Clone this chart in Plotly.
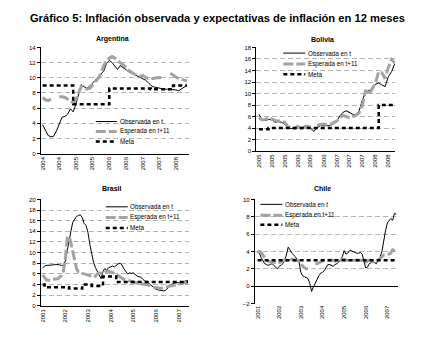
import plotly.graph_objects as go
import pandas as pd

# ---------------- DATA ----------------
# Argentina (monthly from 2004-01)
arg_obs = [3.8, 3.0, 2.4, 2.2, 2.3, 3.0, 4.0, 4.8, 4.9, 5.2, 5.9, 5.5, 6.6, 8.0, 9.1, 8.8, 8.6, 8.9,
           9.3, 9.6, 10.0, 10.5, 10.9, 11.9, 12.3, 12.0, 11.5, 11.1, 11.6, 11.4, 11.1, 10.8, 10.6, 10.4,
           10.3, 10.0, 9.9, 9.7, 9.4, 9.0, 8.8, 8.7, 8.6, 8.6, 8.5, 8.5, 8.5, 8.4, 8.4, 8.3, 8.5, 8.8, 9.0]
arg_esp = [7.4, 7.1, 7.0, 7.2, None, None, 7.5, 7.5, 7.4, 7.2, 6.9, 6.7, 7.2, 8.2, 8.9, 8.7, 8.5, 8.6,
           9.1, 9.5, 9.9, 10.6, 11.6, 12.3, 12.6, 12.8, 12.6, 12.3, 12.0, 11.8, 11.4, 11.0, 10.7, 10.5,
           10.3, 10.2, 10.3, 10.1, 9.9, 9.9, 9.9, 10.0, 10.0, 10.1, None, None, 10.6, 10.3, 10.1, 9.9,
           9.8, 9.7, 9.6]
arg_meta_dates = ["2004-01-01", "2004-12-01", "2006-01-01", "2007-04-01", "2007-12-01", "2008-05-01"]
arg_meta = [9.0, 6.5, 8.6, 8.5, 9.0, 9.0]

# Bolivia (monthly from 2005-01)
bol_obs = [6.4, 5.4, 5.3, 5.5, 5.4, 5.0, 5.1, 5.0, 4.7, 4.0, 3.9, 4.0, 4.2, 4.0, 4.2, 4.2, 4.0, 3.4,
           4.0, 4.4, 4.4, 4.4, 4.4, 4.7, 5.2, 6.1, 6.7, 7.0, 6.7, 6.4, 6.3, 7.0, 8.9, 10.2, 10.5, 10.9,
           11.6, 11.8, 11.5, 11.2, 12.9, 13.8, 15.2]
bol_esp = [5.8, 5.4, 5.5, 5.8, 5.6, 5.3, 5.2, 5.2, 5.0, 4.2, 4.0, 3.9, 4.3, 3.9, 4.2, 4.3, 4.2, None,
           4.5, 4.6, 4.7, 4.6, 4.6, 4.9, 5.2, 5.7, 6.2, 6.0, 5.8, 6.0, 6.2, 6.6, 8.0, 10.6, 9.8, 10.8,
           11.8, 13.8, 13.6, 12.6, 14.5, 15.9, 15.3]
bol_meta_dates = ["2005-01-01", "2005-04-01", "2008-02-01", "2008-07-01"]
bol_meta = [3.8, 4.0, 8.0, 8.0]

# Brasil (monthly from 2001-01)
bra_obs = [7.1, 7.5, 7.6, 7.6, 7.6, 7.7, 7.7, 7.8, 7.8, 7.7, 7.6, 7.6, 8.4, 10.6, 12.6, 14.0, 15.7, 16.4,
           16.8, 17.0, 17.1, 16.6, 15.5, 15.1, 13.8, 11.5, 9.6, 8.2, 7.2, 6.5, 5.6, 5.1, 6.5, 7.0, 6.7,
           7.2, 7.3, 7.5, 7.3, 7.6, 7.9, 8.0, 7.7, 7.0, 6.4, 6.0, 6.2, 6.1, 6.2, 5.8, 5.6, 5.5, 5.4, 5.0,
           4.7, 4.6, 4.3, 4.1, 3.8, 3.4, 3.1, 3.0, 2.9, 2.8, 2.8, 2.9, 3.2, 3.6, 4.0, 4.2, 4.3, 4.3, 4.3,
           4.4, 4.5, 4.6, 4.7, 4.8]
bra_esp = [5.8, 5.3, 4.9, 4.8, 4.8, 4.9, 5.0, 5.0, 5.1, 5.4, 5.7, 6.5, 8.8, 12.8, 13.1, 11.8, 10.3, 8.6,
           7.0, 6.4, 6.2, 6.1, 6.0, 5.9, 5.9, 5.8, 5.6, 5.4, 5.6, 6.0, 6.2, 6.1, 6.0, 6.3, 6.5, 6.5, 6.4,
           6.3, 6.2, 6.0, 5.7, 5.4, 5.2, 5.0, 4.9, 4.7, 4.6, 4.5, 4.4, 4.3, 4.3, 4.2, 4.1, 4.1, 4.1, 4.0,
           3.9, 3.7, 3.6, 3.5, 3.4, 3.3, 3.3, 3.3, 3.4, 3.5, 3.6, 3.7, 3.8, 3.9, 4.0, 4.1, 4.1, 4.2, 4.2,
           4.3, 4.4, 4.5]
bra_meta_dates = ["2001-01-01", "2001-02-01", "2002-03-01", "2002-10-01", "2003-03-01", "2003-09-01",
                  "2004-04-01", "2007-06-01"]
bra_meta = [4.0, 3.5, 3.25, 4.0, 3.75, 5.5, 4.5, 4.5]

# Chile (monthly from 2001-01)
chi_obs = [3.9, 3.8, 3.3, 3.0, 2.6, 2.5, 2.4, 2.5, 2.6, 2.4, 2.2, 2.0, 2.3, 2.4, 2.6, 3.0, 3.6, 4.5,
           4.2, 3.8, 3.6, 3.4, 3.0, 2.8, 1.6, 1.2, 1.1, 1.0, 0.9, 0.3, -0.6, -0.1, 0.4, 0.9, 1.2, 1.5,
           1.6, 1.8, 2.1, 2.5, 2.5, 2.4, 2.3, 2.5, 2.6, 2.8, 3.0, 3.4, 4.1, 3.7, 3.8, 4.1, 4.1, 4.0, 3.9,
           3.8, 3.8, 3.9, 3.7, 3.0, 2.1, 2.2, 2.6, 2.7, 2.8, 2.7, 2.6, 3.1, 3.4, 4.0, 5.4, 6.4, 7.3, 7.6,
           7.8, 7.6, 8.4, 8.3]
chi_esp = [4.0, 4.0, 3.9, 3.6, 3.2, 3.0, 2.9, 2.8, 2.8, 2.8, 2.7, 2.6, 2.7, 2.8, 2.9, 3.0, 3.0, 3.1,
           3.2, 3.1, 3.0, 3.0, 3.0, 2.9, 2.7, 2.3, 2.1, 2.0, 2.0, None, None, None, 2.6, 2.6, 2.7, 2.8,
           2.9, 3.0, 3.0, 3.0, 3.0, 3.0, 3.0, 2.9, 3.0, 3.0, 3.0, 3.1, 3.1, 3.0, 3.0, 3.0, 3.0, 3.0, 3.0,
           3.0, 3.0, 3.0, 3.0, 2.8, 2.8, 2.9, 3.0, 2.9, 2.8, 2.9, 3.0, 3.0, 3.2, 3.5, 3.6, 3.6, 3.7, 3.7,
           3.8, 4.2, 4.1, 4.0]
chi_meta_dates = ["2001-01-01", "2007-06-01"]
chi_meta = [3.0, 3.0]

series_names = ["Observada en t", "Esperada en t+11", "Meta"]
panel_titles = ["Argentina", "Bolivia", "Brasil", "Chile"]
title_text = "Gráfico 5: Inflación observada y expectativas de inflación en 12 meses"

# ---------------- STYLE ----------------
W, H = 430, 338
FONT = "Arial, 'Liberation Sans', sans-serif"
GRAY = "#a3a3a3"
GRID = "#b4b4b4"
OBS_STYLE = dict(color="black", width=1)
ESP_STYLE = dict(color=GRAY, width=3, dash="10px,3px")
META_STYLE = dict(color="black", width=2.5, dash="4px,3px")


def fx(px):
    return px / W


def fy(py):
    return 1 - py / H


panels = [
    dict(start="2004-01-01", obs=arg_obs, esp=arg_esp, md=arg_meta_dates, mv=arg_meta,
         xdom=(40, 188), ydom=(153.3, 45.3), yr=(0, 14), xr=("2003-12-13", "2008-05-19"),
         tick0="2004-01-01", dtick="M6", title_xy=(112, 37),
         leg=dict(x0=95, x1=116, tx=117, rows=(120.7, 130.7, 141))),
    dict(start="2005-01-01", obs=bol_obs, esp=bol_esp, md=bol_meta_dates, mv=bol_meta,
         xdom=(256, 395), ydom=(150.7, 45.3), yr=(0, 18), xr=("2004-12-08", "2008-07-04"),
         tick0="2005-01-01", dtick="M4", title_xy=(322, 37),
         leg=dict(x0=283, x1=305, tx=306, rows=(51, 62, 72.5))),
    dict(start="2001-01-01", obs=bra_obs, esp=bra_esp, md=bra_meta_dates, mv=bra_meta,
         xdom=(40, 188), ydom=(308.3, 200), yr=(0, 20), xr=("2000-12-04", "2007-06-10"),
         tick0="2001-01-01", dtick="M12", title_xy=(111, 189),
         leg=dict(x0=105, x1=127, tx=127.5, rows=(207.5, 218.3, 229))),
    dict(start="2001-01-01", obs=chi_obs, esp=chi_esp, md=chi_meta_dates, mv=chi_meta,
         xdom=(254.5, 398), ydom=(306, 200), yr=(-2, 10), xr=("2000-11-16", "2007-07-01"),
         tick0="2001-01-01", dtick="M12", title_xy=(322, 189),
         leg=dict(x0=260, x1=282, tx=282.5, rows=(205, 216, 225.7))),
]

fig = go.Figure()
shapes = []
annotations = []

for i, p in enumerate(panels):
    k = "" if i == 0 else str(i + 1)
    xa, ya = "x" + k, "y" + k
    dates = pd.date_range(p["start"], periods=len(p["obs"]), freq="MS")
    fig.add_trace(go.Scatter(x=dates, y=p["obs"], mode="lines", line=OBS_STYLE,
                             name=series_names[0], xaxis=xa, yaxis=ya, showlegend=False))
    fig.add_trace(go.Scatter(x=dates, y=p["esp"], mode="lines", line=ESP_STYLE,
                             name=series_names[1], xaxis=xa, yaxis=ya, showlegend=False,
                             connectgaps=False))
    fig.add_trace(go.Scatter(x=pd.to_datetime(p["md"]), y=p["mv"], mode="lines",
                             line=dict(META_STYLE, shape="hv"),
                             name=series_names[2], xaxis=xa, yaxis=ya, showlegend=False))

    chile = (i == 3)
    fig.layout["xaxis" + k] = dict(
        domain=[fx(p["xdom"][0]), fx(p["xdom"][1])], anchor=ya, type="date",
        range=list(p["xr"]), tick0=p["tick0"], dtick=p["dtick"], tickformat="%Y",
        tickangle=-90, tickfont=dict(size=6, color="black", family=FONT),
        showline=not chile, linecolor="black", linewidth=1, showgrid=False,
        zeroline=False, ticks="", fixedrange=True)
    fig.layout["yaxis" + k] = dict(
        domain=[fy(p["ydom"][0]), fy(p["ydom"][1])], anchor=xa,
        range=list(p["yr"]), dtick=2, tick0=0,
        showline=True, linecolor="black", linewidth=1,
        ticks="outside", ticklen=3, tickcolor="black", tickwidth=1,
        tickfont=dict(size=6, color="black", family=FONT),
        showgrid=True, gridcolor=GRID, gridwidth=1, griddash="5px,3px",
        zeroline=chile, zerolinecolor="black", zerolinewidth=1, fixedrange=True)

    # panel title
    annotations.append(dict(text="<b>" + panel_titles[i] + "</b>", xref="paper", yref="paper",
                            x=fx(p["title_xy"][0]), y=fy(p["title_xy"][1]), showarrow=False,
                            xanchor="center", yanchor="middle",
                            font=dict(size=7, color="black", family=FONT)))
    # legend (drawn inside each panel)
    lg = p["leg"]
    for name, style, row in zip(series_names, [OBS_STYLE, ESP_STYLE, META_STYLE], lg["rows"]):
        shapes.append(dict(type="line", xref="paper", yref="paper",
                           x0=fx(lg["x0"]), x1=fx(lg["x1"]), y0=fy(row), y1=fy(row),
                           line=style))
        annotations.append(dict(text=name, xref="paper", yref="paper", x=fx(lg["tx"]), y=fy(row),
                                showarrow=False, xanchor="left", yanchor="middle",
                                font=dict(size=6.3, color="black", family=FONT)))

fig.update_layout(
    width=W, height=H, autosize=False,
    margin=dict(l=0, r=0, t=0, b=0),
    paper_bgcolor="white", plot_bgcolor="white",
    title=dict(text="<b>" + title_text + "</b>", x=fx(29), xanchor="left", xref="paper",
               y=fy(15), yanchor="middle", yref="paper",
               font=dict(size=11.2, color="black", family=FONT)),
    shapes=shapes, annotations=annotations, showlegend=False,
)

fig.write_html("out.html")
